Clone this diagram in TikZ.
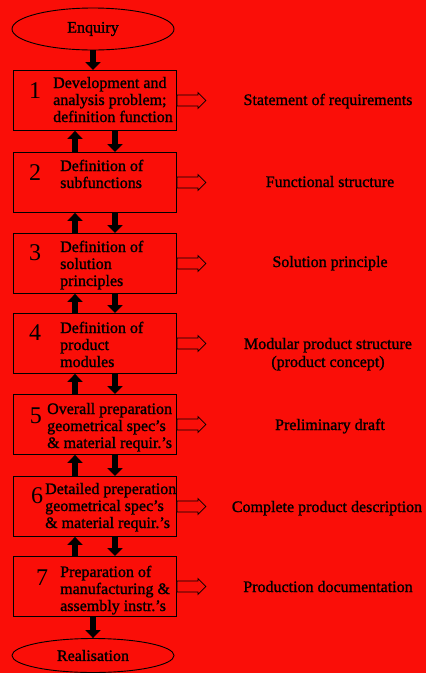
\documentclass[tikz,border=0pt]{standalone}
\usepackage{fontspec}
\setmainfont{Liberation Serif}[BoldFont={Liberation Serif},BoldFeatures={FakeBold=1.2}]
\usetikzlibrary{arrows.meta,shapes.geometric}
\definecolor{bg}{RGB}{250,14,8}
\begin{document}
\begin{tikzpicture}[x=1pt,y=-1pt,
  stepbox/.style={draw=black, line width=0.9pt, fill=bg, minimum width=163pt, minimum height=60pt, anchor=north west, inner sep=0pt},
  endoval/.style={draw=black, line width=0.9pt, fill=bg, ellipse, inner sep=0pt, font=\fontsize{16}{17}\selectfont\bfseries},
  boxtext/.style={anchor=base west, align=left, inner sep=0pt, font=\fontsize{16}{17}\selectfont\bfseries},
  numtext/.style={anchor=base, inner sep=0pt, font=\fontsize{24}{24}\selectfont},
  outtext/.style={anchor=base, align=center, inner sep=0pt, font=\fontsize{16}{18}\selectfont\bfseries},
  fat/.style={line width=6pt, -{Triangle[width=15pt,length=8pt]}},
  hollow/.style={draw=black, line width=0.7pt, fill=bg, line join=miter}
]
\useasboundingbox[fill=bg] (0,0) rectangle (426,673);

% ovals
\node[endoval, minimum width=162pt, minimum height=42pt] (enq) at (93,29) {Enquiry};
\node[endoval, minimum width=162pt, minimum height=34pt] (real) at (93,655.5) {Realisation};

% boxes
\node[stepbox] (b1) at (13,70) {};
\node[stepbox] (b2) at (13,152) {};
\node[stepbox] (b3) at (13,233) {};
\node[stepbox] (b4) at (13,313) {};
\node[stepbox] (b5) at (13,394) {};
\node[stepbox] (b6) at (13,476) {};
\node[stepbox] (b7) at (13,556) {};

% numbers
\node[numtext] (n1) at (35,98) {1};
\node[numtext] (n2) at (35,180) {2};
\node[numtext] (n3) at (35,260) {3};
\node[numtext] (n4) at (35,340) {4};
\node[numtext] (n5) at (36,423) {5};
\node[numtext] (n6) at (37,503) {6};
\node[numtext] (n7) at (42,585) {7};

% box texts (anchored at the baseline of the last line)
\node[boxtext] (t1) at (53,122) {Development and\\analysis problem;\\definition function};
\node[boxtext] (t2) at (60,188) {Definition of\\subfunctions};
\node[boxtext] (t3) at (60,286) {Definition of\\solution\\principles};
\node[boxtext] (t4) at (60,367) {Definition of\\product\\modules};
\node[boxtext] (t5) at (47,448) {Overall preparation\\geometrical spec's\\\& material requir.'s};
\node[boxtext] (t6) at (45,528) {Detailed preperation\\geometrical spec's\\\& material requir.'s};
\node[boxtext] (t7) at (60,611) {Preparation of\\manufacturing \&\\assembly instr.'s};

% outputs
\node[outtext] (o1) at (328,105) {Statement of requirements};
\node[outtext] (o2) at (330,187) {Functional structure};
\node[outtext] (o3) at (330,267) {Solution principle};
\node[outtext] (o4) at (328,367) {Modular product structure\\(product concept)};
\node[outtext] (o5) at (330,430) {Preliminary draft};
\node[outtext] (o6) at (327,512) {Complete product description};
\node[outtext] (o7) at (328,592) {Production documentation};

% thick arrows
\coordinate (ux) at (75,0);
\coordinate (dx) at (115,0);
\draw[fat] (enq.south) -- (enq.south |- b1.north);
\foreach \a/\b in {b1/b2,b2/b3,b3/b4,b4/b5,b5/b6,b6/b7}{
  \draw[fat] (\b.north -| ux) -- (\a.south -| ux);
  \draw[fat] (\a.south -| dx) -- (\b.north -| dx);
}
\draw[fat] (b7.south -| real.north) -- (real.north);

% hollow arrows
\foreach \b in {b1,b2,b3,b4,b5,b6,b7}{
  \draw[hollow] (\b.east) -- ++(0,-5.5) -- ++(21,0) -- ++(0,-2.5) -- ++(8,8) -- ++(-8,8) -- ++(0,-2.5) -- ++(-21,0) -- cycle;
}
\end{tikzpicture}
\end{document}
